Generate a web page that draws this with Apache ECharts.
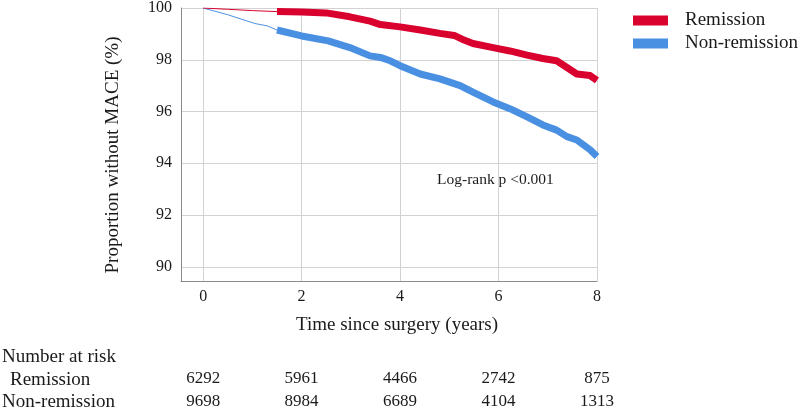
<!DOCTYPE html>
<html>
<head>
<meta charset="utf-8">
<script src="https://cdn.jsdelivr.net/npm/echarts@6/dist/echarts.min.js"></script>
<style>html,body{margin:0;padding:0;background:#fff;}#c{width:800px;height:410px;}</style>
</head>
<body>
<div id="c"></div>
<script>
// Tick labels
var xTicks = [0, 2, 4, 6, 8];
var yTicks = [90, 92, 94, 96, 98, 100];
// Kaplan-Meier curves (time in years, % without MACE)
var remissionEarly = [[0, 100], [0.5, 99.95], [1.0, 99.9], [1.5, 99.86]];
var remissionLate = [[1.5, 99.86], [2.0, 99.85], [2.5, 99.81], [2.98, 99.66], [3.39, 99.49], [3.6, 99.36], [4.0, 99.27], [4.41, 99.15], [4.81, 99.02], [5.1, 98.94], [5.3, 98.76], [5.48, 98.63], [5.89, 98.47], [6.23, 98.34], [6.58, 98.18], [6.9, 98.05], [7.18, 97.96], [7.39, 97.7], [7.59, 97.45], [7.86, 97.39], [8.0, 97.2]];
var nonRemissionEarly = [[0, 100], [0.5, 99.74], [1.05, 99.4], [1.3, 99.31], [1.5, 99.15]];
var nonRemissionLate = [[1.5, 99.15], [2.0, 98.92], [2.54, 98.73], [2.98, 98.47], [3.39, 98.15], [3.6, 98.09], [3.8, 97.96], [4.0, 97.77], [4.41, 97.45], [4.81, 97.26], [5.22, 97.0], [5.48, 96.75], [5.89, 96.37], [6.23, 96.11], [6.58, 95.79], [6.9, 95.48], [7.18, 95.28], [7.39, 95.03], [7.59, 94.9], [7.86, 94.52], [8.0, 94.26]];
// Number at risk
var riskTimes = [0, 2, 4, 6, 8];
var remissionRisk = [6292, 5961, 4466, 2742, 875];
var nonRemissionRisk = [9698, 8984, 6689, 4104, 1313];

var RED = '#d9022f';
var BLUE = '#4a90e2';
var FONT = 'Liberation Serif';
var TXT = '#1a1a1a';

function riskAxis(values, offset) {
  return {
    type: 'value', gridIndex: 0, position: 'bottom', offset: offset,
    min: -0.45, max: 8,
    axisLine: {show: false, onZero: false}, axisTick: {show: false, customValues: riskTimes}, splitLine: {show: false},
    axisLabel: {
      customValues: riskTimes, margin: 0,
      fontFamily: FONT, fontSize: 17, color: TXT,
      formatter: function (v) { var i = riskTimes.indexOf(v); return i >= 0 ? String(values[i]) : ''; }
    }
  };
}

var chart = echarts.init(document.getElementById('c'), null, {renderer: 'canvas'});
chart.setOption({
  animation: false,
  backgroundColor: '#fff',
  grid: {left: 181, right: 203, top: 5, bottom: 128},
  legend: {
    orient: 'vertical', left: 633, top: 11, padding: 0,
    icon: 'rect', itemWidth: 35, itemHeight: 10, itemGap: 4,
    data: ['Remission', 'Non-remission'],
    textStyle: {fontFamily: FONT, fontSize: 19, color: TXT, lineHeight: 19, padding: [0, 0, 0, 12]}
  },
  xAxis: [
    {
      type: 'value', min: -0.45, max: 8,
      axisLine: {show: true, onZero: false, lineStyle: {color: '#8a8a8a', width: 1}},
      axisTick: {show: false, customValues: xTicks},
      axisLabel: {customValues: xTicks, margin: 8, fontFamily: FONT, fontSize: 16, color: TXT},
      splitLine: {show: true, lineStyle: {color: '#d2d2d2', width: 1}}
    },
    riskAxis(remissionRisk, 89),
    riskAxis(nonRemissionRisk, 112)
  ],
  yAxis: {
    type: 'value', min: 89.45, max: 100,
    axisLine: {show: true, onZero: false, lineStyle: {color: '#8a8a8a', width: 1}},
    axisTick: {show: false, customValues: yTicks},
    axisLabel: {customValues: yTicks, margin: 9, fontFamily: FONT, fontSize: 16, color: TXT},
    splitLine: {show: true, lineStyle: {color: '#d2d2d2', width: 1}}
  },
  series: [
    {name: 'Remission', type: 'line', data: remissionLate, showSymbol: false, color: RED,
     lineStyle: {width: 7, color: RED, join: 'round'}, z: 3},
    {name: 'Non-remission', type: 'line', data: nonRemissionLate, showSymbol: false, color: BLUE,
     lineStyle: {width: 7, color: BLUE, join: 'round'}, z: 2},
    {name: 'Remission', type: 'line', data: remissionEarly, showSymbol: false, color: RED,
     lineStyle: {width: 1, color: RED}, z: 3},
    {name: 'Non-remission', type: 'line', data: nonRemissionEarly, showSymbol: false, color: BLUE,
     lineStyle: {width: 1, color: BLUE}, z: 2}
  ],
  graphic: [
    {type: 'text', x: 113, y: 155, rotation: Math.PI / 2,
     style: {text: 'Proportion without MACE (%)', fontFamily: FONT, fontSize: 19, fill: TXT, align: 'center', verticalAlign: 'middle'}},
    {type: 'text', x: 397, y: 325,
     style: {text: 'Time since surgery (years)', fontFamily: FONT, fontSize: 19, fill: TXT, align: 'center', verticalAlign: 'middle'}},
    {type: 'text', x: 437, y: 180,
     style: {text: 'Log-rank p <0.001', fontFamily: FONT, fontSize: 15.5, fill: TXT, align: 'left', verticalAlign: 'middle'}},
    {type: 'text', x: 2, y: 357,
     style: {text: 'Number at risk', fontFamily: FONT, fontSize: 19, fill: TXT, align: 'left', verticalAlign: 'middle'}},
    {type: 'text', x: 10, y: 380,
     style: {text: 'Remission', fontFamily: FONT, fontSize: 19, fill: TXT, align: 'left', verticalAlign: 'middle'}},
    {type: 'text', x: 2, y: 402,
     style: {text: 'Non-remission', fontFamily: FONT, fontSize: 19, fill: TXT, align: 'left', verticalAlign: 'middle'}}
  ]
});
</script>
</body>
</html>
